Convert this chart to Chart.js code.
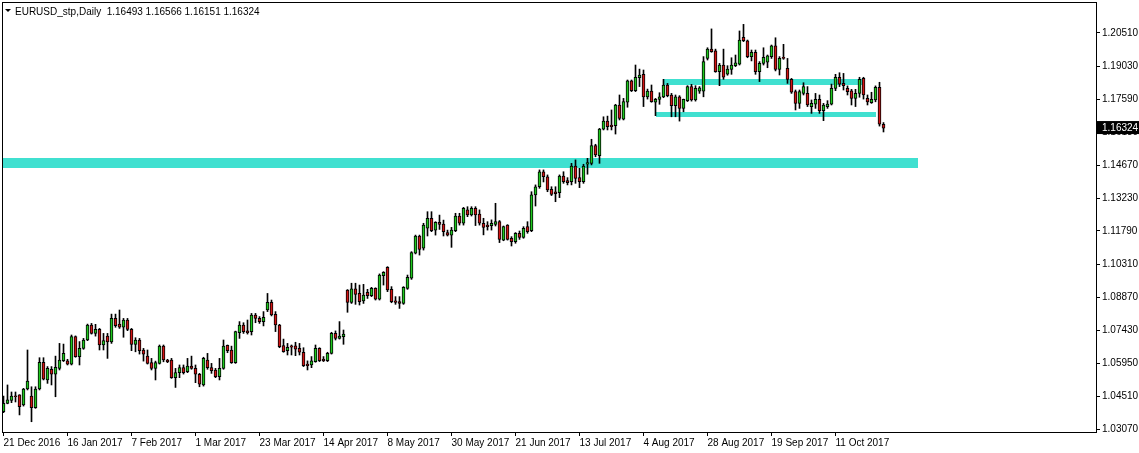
<!DOCTYPE html>
<html>
<head>
<meta charset="utf-8">
<script src="https://cdn.jsdelivr.net/npm/chart.js@4.4.1/dist/chart.umd.min.js"></script>
<style>
  html, body { margin: 0; padding: 0; background: #fff; }
  canvas { display: block; }
</style>
</head>
<body>
<canvas id="chart" width="1139" height="453"></canvas>
<script>
// EURUSD daily candles, 21 Dec 2016 .. 27 Oct 2017
const opens = [
  1.0383, 1.0420, 1.0433, 1.0451, 1.0457, 1.0413, 1.0483, 1.0452, 1.0401, 1.0483,
  1.0601, 1.0523, 1.0570, 1.0549, 1.0574, 1.0608, 1.0607, 1.0592, 1.0714, 1.0626,
  1.0662, 1.0699, 1.0765, 1.0728, 1.0746, 1.0677, 1.0716, 1.0691, 1.0794, 1.0769,
  1.0755, 1.0787, 1.0746, 1.0680, 1.0699, 1.0655, 1.0628, 1.0599, 1.0574, 1.0596,
  1.0672, 1.0611, 1.0611, 1.0533, 1.0555, 1.0577, 1.0560, 1.0584, 1.0574, 1.0548,
  1.0501, 1.0611, 1.0578, 1.0567, 1.0538, 1.0574, 1.0675, 1.0655, 1.0599, 1.0731,
  1.0765, 1.0739, 1.0736, 1.0809, 1.0794, 1.0780, 1.0831, 1.0865, 1.0812, 1.0765,
  1.0674, 1.0652, 1.0673, 1.0673, 1.0662, 1.0645, 1.0593, 1.0589, 1.0604, 1.0662,
  1.0615, 1.0608, 1.0640, 1.0728, 1.0706, 1.0714, 1.0919, 1.0865, 1.0924, 1.0904,
  1.0871, 1.0909, 1.0894, 1.0926, 1.0879, 1.0982, 1.1019, 1.0922, 1.0871, 1.0868,
  1.0860, 1.0926, 1.0971, 1.1081, 1.1157, 1.1103, 1.1191, 1.1235, 1.1183, 1.1217,
  1.1210, 1.1172, 1.1161, 1.1181, 1.1245, 1.1213, 1.1272, 1.1250, 1.1279, 1.1254,
  1.1213, 1.1205, 1.1203, 1.1208, 1.1220, 1.1139, 1.1205, 1.1147, 1.1132, 1.1169,
  1.1151, 1.1198, 1.1181, 1.1338, 1.1374, 1.1440, 1.1418, 1.1362, 1.1352, 1.1348,
  1.1421, 1.1401, 1.1396, 1.1465, 1.1414, 1.1396, 1.1473, 1.1477, 1.1555, 1.1511,
  1.1628, 1.1663, 1.1646, 1.1643, 1.1734, 1.1672, 1.1746, 1.1840, 1.1797, 1.1854,
  1.1869, 1.1770, 1.1795, 1.1746, 1.1759, 1.1770, 1.1822, 1.1778, 1.1731, 1.1770,
  1.1719, 1.1753, 1.1815, 1.1756, 1.1795, 1.1795, 1.1939, 1.1980, 1.1972, 1.1881,
  1.1910, 1.1870, 1.1891, 1.1907, 1.1914, 1.2032, 1.2016, 1.1947, 1.1966, 1.1881,
  1.1917, 1.1922, 1.1947, 1.1994, 1.1891, 1.1944, 1.1895, 1.1847, 1.1793, 1.1741,
  1.1785, 1.1785, 1.1727, 1.1738, 1.1759, 1.1709, 1.1727, 1.1737, 1.1807, 1.1856,
  1.1829, 1.1807, 1.1796, 1.1763, 1.1785, 1.1851, 1.1763, 1.1744, 1.1756, 1.1812,
  1.16493
];
const highs = [
  1.0452, 1.0501, 1.0470, 1.0470, 1.0458, 1.0486, 1.0655, 1.0493, 1.0493, 1.0621,
  1.0621, 1.0582, 1.0582, 1.0628, 1.0684, 1.0681, 1.0614, 1.0721, 1.0717, 1.0692,
  1.0706, 1.0769, 1.0772, 1.0768, 1.0750, 1.0728, 1.0728, 1.0813, 1.0813, 1.0831,
  1.0794, 1.0794, 1.0750, 1.0709, 1.0706, 1.0662, 1.0655, 1.0618, 1.0606, 1.0677,
  1.0677, 1.0614, 1.0618, 1.0574, 1.0589, 1.0589, 1.0618, 1.0628, 1.0589, 1.0552,
  1.0623, 1.0640, 1.0596, 1.0574, 1.0618, 1.0699, 1.0677, 1.0672, 1.0738, 1.0780,
  1.0775, 1.0787, 1.0816, 1.0816, 1.0802, 1.0824, 1.0904, 1.0875, 1.0824, 1.0768,
  1.0703, 1.0684, 1.0677, 1.0689, 1.0684, 1.0665, 1.0607, 1.0626, 1.0677, 1.0665,
  1.0626, 1.0645, 1.0733, 1.0739, 1.0780, 1.0743, 1.0921, 1.0949, 1.0949, 1.0941,
  1.0944, 1.0922, 1.0931, 1.0929, 1.0990, 1.1000, 1.1022, 1.0934, 1.0890, 1.0890,
  1.0934, 1.0985, 1.1088, 1.1161, 1.1161, 1.1213, 1.1264, 1.1264, 1.1220, 1.1249,
  1.1227, 1.1183, 1.1195, 1.1257, 1.1257, 1.1283, 1.1286, 1.1286, 1.1286, 1.1272,
  1.1235, 1.1220, 1.1228, 1.1301, 1.1225, 1.1201, 1.1207, 1.1154, 1.1172, 1.1179,
  1.1198, 1.1220, 1.1352, 1.1382, 1.1448, 1.1448, 1.1426, 1.1374, 1.1374, 1.1426,
  1.1440, 1.1414, 1.1477, 1.1492, 1.1455, 1.1473, 1.1499, 1.1583, 1.1561, 1.1631,
  1.1682, 1.1685, 1.1712, 1.1737, 1.1778, 1.1763, 1.1844, 1.1844, 1.1910, 1.1892,
  1.1888, 1.1804, 1.1822, 1.1763, 1.1788, 1.1847, 1.1829, 1.1785, 1.1778, 1.1775,
  1.1760, 1.1819, 1.1825, 1.1819, 1.1815, 1.1947, 1.1986, 1.2069, 1.1980, 1.1917,
  1.1980, 1.1907, 1.1942, 1.1954, 1.2060, 1.2089, 1.2020, 1.1976, 1.1976, 1.1925,
  1.1986, 1.1954, 1.1998, 1.2030, 1.1947, 1.2001, 1.1939, 1.1851, 1.1800, 1.1800,
  1.1832, 1.1815, 1.1756, 1.1785, 1.1778, 1.1741, 1.1753, 1.1826, 1.1869, 1.1876,
  1.1873, 1.1818, 1.1803, 1.1803, 1.1856, 1.1856, 1.1778, 1.1790, 1.1818, 1.1834,
  1.16566
];
const lows = [
  1.0379, 1.0418, 1.0423, 1.0426, 1.0369, 1.0408, 1.0479, 1.0339, 1.0398, 1.0479,
  1.0523, 1.0508, 1.0501, 1.0449, 1.0567, 1.0604, 1.0589, 1.0589, 1.0623, 1.0589,
  1.0658, 1.0696, 1.0725, 1.0716, 1.0655, 1.0655, 1.0618, 1.0684, 1.0755, 1.0750,
  1.0711, 1.0740, 1.0652, 1.0647, 1.0637, 1.0606, 1.0593, 1.0567, 1.0523, 1.0593,
  1.0603, 1.0599, 1.0530, 1.0490, 1.0533, 1.0549, 1.0555, 1.0570, 1.0511, 1.0493,
  1.0496, 1.0570, 1.0552, 1.0533, 1.0523, 1.0570, 1.0643, 1.0596, 1.0596, 1.0706,
  1.0728, 1.0725, 1.0721, 1.0775, 1.0772, 1.0761, 1.0824, 1.0805, 1.0736, 1.0665,
  1.0645, 1.0633, 1.0633, 1.0630, 1.0633, 1.0582, 1.0567, 1.0577, 1.0601, 1.0604,
  1.0604, 1.0604, 1.0637, 1.0699, 1.0703, 1.0680, 1.0821, 1.0860, 1.0856, 1.0853,
  1.0860, 1.0882, 1.0890, 1.0875, 1.0875, 1.0941, 1.0912, 1.0863, 1.0856, 1.0838,
  1.0856, 1.0922, 1.0966, 1.1078, 1.1073, 1.1095, 1.1157, 1.1176, 1.1161, 1.1186,
  1.1157, 1.1157, 1.1107, 1.1176, 1.1205, 1.1205, 1.1242, 1.1245, 1.1203, 1.1205,
  1.1162, 1.1183, 1.1183, 1.1201, 1.1128, 1.1136, 1.1139, 1.1113, 1.1125, 1.1142,
  1.1147, 1.1169, 1.1176, 1.1289, 1.1367, 1.1395, 1.1352, 1.1335, 1.1308, 1.1326,
  1.1389, 1.1382, 1.1382, 1.1389, 1.1370, 1.1389, 1.1429, 1.1470, 1.1506, 1.1477,
  1.1624, 1.1624, 1.1624, 1.1606, 1.1668, 1.1668, 1.1724, 1.1793, 1.1793, 1.1815,
  1.1727, 1.1760, 1.1746, 1.1687, 1.1737, 1.1766, 1.1770, 1.1682, 1.1682, 1.1663,
  1.1704, 1.1749, 1.1751, 1.1751, 1.1785, 1.1770, 1.1932, 1.1966, 1.1878, 1.1819,
  1.1847, 1.1865, 1.1869, 1.1903, 1.1910, 1.2013, 1.1942, 1.1928, 1.1869, 1.1837,
  1.1910, 1.1898, 1.1939, 1.1884, 1.1866, 1.1935, 1.1829, 1.1785, 1.1712, 1.1719,
  1.1778, 1.1727, 1.1697, 1.1719, 1.1697, 1.1665, 1.1719, 1.1734, 1.1797, 1.1815,
  1.1800, 1.1778, 1.1734, 1.1727, 1.1768, 1.1760, 1.1734, 1.1741, 1.1748, 1.1641,
  1.16151
];
const closes = [
  1.0420, 1.0435, 1.0452, 1.0449, 1.0405, 1.0483, 1.0518, 1.0401, 1.0483, 1.0601,
  1.0527, 1.0574, 1.0549, 1.0579, 1.0611, 1.0640, 1.0592, 1.0714, 1.0626, 1.0662,
  1.0699, 1.0765, 1.0728, 1.0746, 1.0677, 1.0696, 1.0691, 1.0794, 1.0762, 1.0755,
  1.0787, 1.0746, 1.0680, 1.0699, 1.0652, 1.0637, 1.0596, 1.0574, 1.0599, 1.0672,
  1.0611, 1.0603, 1.0533, 1.0555, 1.0577, 1.0555, 1.0584, 1.0574, 1.0548, 1.0504,
  1.0618, 1.0577, 1.0564, 1.0538, 1.0574, 1.0672, 1.0652, 1.0599, 1.0736, 1.0765,
  1.0736, 1.0731, 1.0809, 1.0794, 1.0780, 1.0799, 1.0865, 1.0809, 1.0765, 1.0670,
  1.0648, 1.0667, 1.0667, 1.0659, 1.0645, 1.0586, 1.0586, 1.0607, 1.0662, 1.0608,
  1.0607, 1.0640, 1.0728, 1.0706, 1.0716, 1.0725, 1.0865, 1.0924, 1.0900, 1.0868,
  1.0897, 1.0894, 1.0926, 1.0879, 1.0985, 1.0997, 1.0919, 1.0868, 1.0865, 1.0860,
  1.0931, 1.0975, 1.1084, 1.1157, 1.1098, 1.1205, 1.1235, 1.1180, 1.1217, 1.1208,
  1.1176, 1.1161, 1.1183, 1.1245, 1.1213, 1.1279, 1.1250, 1.1279, 1.1250, 1.1213,
  1.1195, 1.1198, 1.1213, 1.1220, 1.1142, 1.1198, 1.1142, 1.1132, 1.1169, 1.1151,
  1.1191, 1.1176, 1.1338, 1.1374, 1.1440, 1.1418, 1.1360, 1.1340, 1.1343, 1.1421,
  1.1396, 1.1392, 1.1465, 1.1411, 1.1396, 1.1465, 1.1480, 1.1555, 1.1514, 1.1628,
  1.1663, 1.1638, 1.1638, 1.1734, 1.1675, 1.1749, 1.1840, 1.1797, 1.1856, 1.1866,
  1.1770, 1.1795, 1.1749, 1.1759, 1.1770, 1.1822, 1.1775, 1.1731, 1.1770, 1.1719,
  1.1759, 1.1815, 1.1756, 1.1807, 1.1810, 1.1925, 1.1980, 1.1969, 1.1881, 1.1910,
  1.1856, 1.1892, 1.1910, 1.1920, 1.2020, 1.2017, 1.1947, 1.1966, 1.1881, 1.1917,
  1.1944, 1.1950, 1.1994, 1.1891, 1.1939, 1.1939, 1.1847, 1.1790, 1.1741, 1.1793,
  1.1815, 1.1734, 1.1741, 1.1759, 1.1709, 1.1734, 1.1738, 1.1807, 1.1856, 1.1826,
  1.1819, 1.1793, 1.1763, 1.1785, 1.1847, 1.1778, 1.1748, 1.1759, 1.1812, 1.1650,
  1.16324
];

// date labels sit on every 16th bar
const tickIndex = [0, 16, 32, 48, 64, 80, 96, 112, 128, 144, 160, 176, 192, 208];
const tickLabels = [
  "21 Dec 2016", "16 Jan 2017", "7 Feb 2017", "1 Mar 2017", "23 Mar 2017",
  "14 Apr 2017", "8 May 2017", "30 May 2017", "21 Jun 2017", "13 Jul 2017",
  "4 Aug 2017", "28 Aug 2017", "19 Sep 2017", "11 Oct 2017"
];
const priceTicks = [1.20510, 1.19030, 1.17590, 1.16130, 1.14670, 1.13230, 1.11790,
                    1.10310, 1.08870, 1.07430, 1.05950, 1.04510, 1.03070];
const lastPrice = 1.16324;

// turquoise rectangles: bar index from/to, price low/high
const bandStart = [-10, 165, 163];
const bandEnd = [228.7, 214.8, 218];
const bandLow = [1.14578, 1.18220, 1.16824];
const bandHigh = [1.15018, 1.18484, 1.17044];

const symbolTitle = "EURUSD_stp,Daily";
const FONT = '"Liberation Sans", Arial, sans-serif';
const UP = "#1ec81e";
const DOWN = "#d21414";

const idx = opens.map((_, i) => i);
const bodies = idx.map(i => ({ x: i, y: [opens[i], closes[i]] }));
const wicks = idx.map(i => ({ x: i, y: [lows[i], highs[i]] }));
const bodyColors = idx.map(i => closes[i] >= opens[i] ? UP : DOWN);

const mt4Plugin = {
  id: "mt4",
  beforeDatasetsDraw(chart) {
    const { ctx, chartArea: a, scales: { x, y } } = chart;
    ctx.save();
    ctx.beginPath();
    ctx.rect(a.left, a.top, a.width, a.height);
    ctx.clip();
    ctx.fillStyle = "#40e0d0";
    for (let k = 0; k < bandStart.length; k++) {
      const x1 = Math.round(x.getPixelForValue(bandStart[k]));
      const x2 = Math.round(x.getPixelForValue(bandEnd[k]));
      const y1 = Math.round(y.getPixelForValue(bandHigh[k]));
      const y2 = Math.round(y.getPixelForValue(bandLow[k]));
      ctx.fillRect(x1, y1, x2 - x1, y2 - y1);
    }
    ctx.restore();
  },
  afterDraw(chart) {
    const { ctx, chartArea: a } = chart;
    ctx.save();
    // chart frame
    ctx.strokeStyle = "#000";
    ctx.lineWidth = 1;
    ctx.strokeRect(a.left + 0.5, a.top + 0.5, a.width - 1, a.height - 1);
    // header: small triangle + symbol + last bar OHLC
    const n = opens.length - 1;
    ctx.fillStyle = "#000";
    ctx.beginPath();
    ctx.moveTo(5, 9);
    ctx.lineTo(11, 9);
    ctx.lineTo(8, 12);
    ctx.closePath();
    ctx.fill();
    ctx.font = "10px " + FONT;
    ctx.textBaseline = "alphabetic";
    const ohlc = [opens[n], highs[n], lows[n], closes[n]].map(v => v.toFixed(5)).join(" ");
    ctx.fillText(symbolTitle + "  " + ohlc, 15, 15);
    ctx.restore();
  }
};

new Chart(document.getElementById("chart"), {
  type: "bar",
  data: {
    datasets: [
      {
        label: "body",
        data: bodies,
        backgroundColor: bodyColors,
        borderColor: "#000",
        borderWidth: 1,
        borderSkipped: false,
        barThickness: 3,
        minBarLength: 1,
        grouped: false,
        order: 0
      },
      {
        label: "wick",
        data: wicks,
        backgroundColor: "#000",
        borderWidth: 0,
        barThickness: 1,
        grouped: false,
        order: 1
      }
    ]
  },
  options: {
    responsive: false,
    devicePixelRatio: 1,
    animation: false,
    layout: { padding: { left: 2, top: 2, right: 0, bottom: 0 } },
    plugins: {
      legend: { display: false },
      tooltip: { enabled: false },
      title: { display: false }
    },
    scales: {
      x: {
        type: "linear",
        min: -0.375,
        max: 273.375,
        offset: false,
        afterBuildTicks: s => { s.ticks = tickIndex.map(v => ({ value: v })); },
        afterFit: s => { s.height = 20; s.paddingLeft = 0; s.paddingRight = 0; },
        ticks: {
          autoSkip: false,
          maxRotation: 0,
          align: "start",
          padding: 1,
          color: "#000",
          font: { family: FONT, size: 10 },
          callback: (v, i) => tickLabels[i]
        },
        grid: { drawOnChartArea: false, offset: false, tickLength: 3, color: "#000" },
        border: { display: false }
      },
      y: {
        position: "right",
        min: 1.02894,
        max: 1.21875,
        afterBuildTicks: s => { s.ticks = priceTicks.concat([lastPrice]).map(v => ({ value: v })); },
        afterFit: s => { s.width = 42; s.paddingTop = 0; s.paddingBottom = 0; },
        ticks: {
          autoSkip: false,
          padding: 2,
          color: c => (c.tick && c.tick.value === lastPrice ? "#fff" : "#000"),
          showLabelBackdrop: c => !!(c.tick && c.tick.value === lastPrice),
          backdropColor: "#000",
          backdropPadding: { left: 5, right: 2, top: 1, bottom: 0 },
          font: { family: FONT, size: 10 },
          callback: v => Number(v).toFixed(5)
        },
        grid: { drawOnChartArea: false, tickLength: 3, color: "#000" },
        border: { display: false }
      }
    }
  },
  plugins: [mt4Plugin]
});
</script>
</body>
</html>
